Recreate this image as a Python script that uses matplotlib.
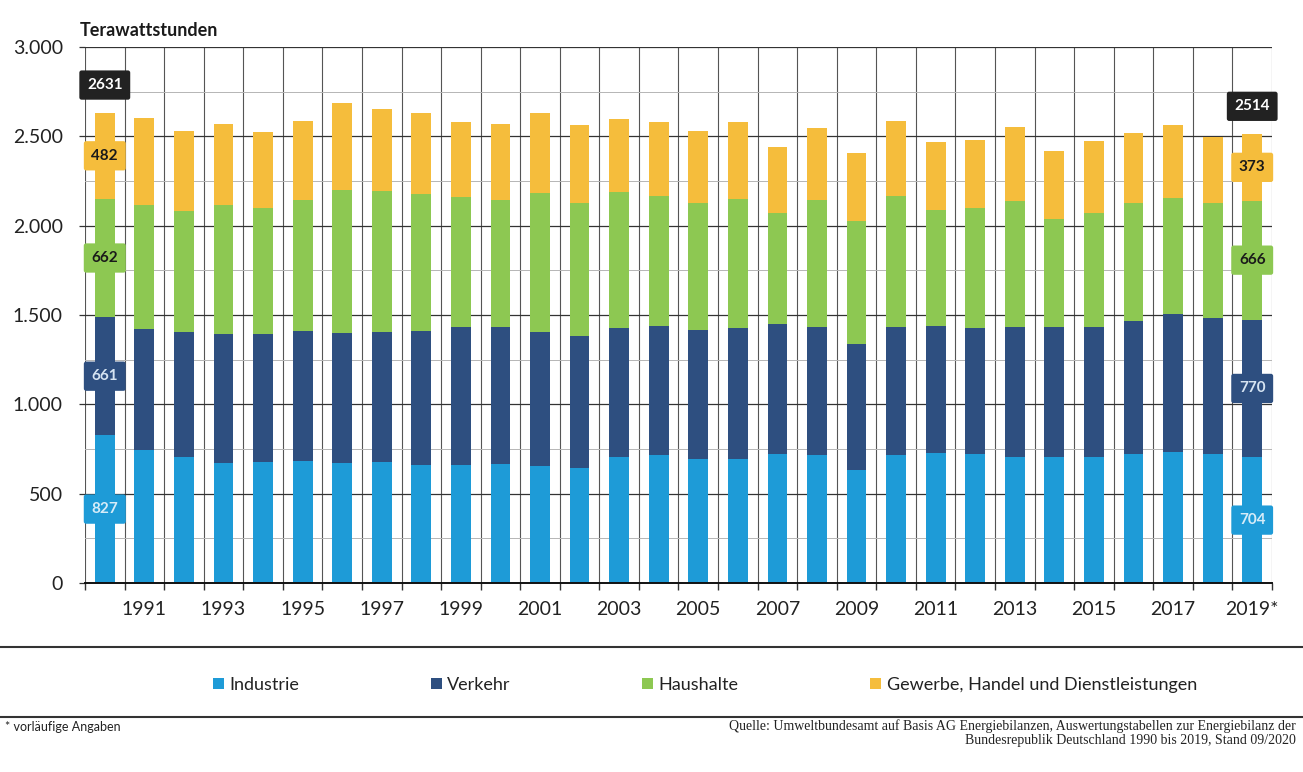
import numpy as np
import matplotlib.pyplot as plt
from matplotlib.lines import Line2D
from matplotlib.patches import Patch

plt.rcParams['font.family'] = ['Lato', 'DejaVu Sans']

# Data (TWh)
years = list(range(1990, 2020))
industrie = [827, 744, 707, 670, 679, 683, 670, 676, 660, 660,
             666, 655, 645, 707, 716, 696, 696, 722, 715, 632,
             716, 729, 720, 707, 707, 707, 722, 735, 720, 704]
verkehr = [661, 678, 700, 724, 715, 729, 731, 731, 752, 771,
           769, 748, 739, 718, 722, 720, 731, 728, 716, 706,
           715, 709, 705, 724, 724, 724, 746, 771, 761, 770]
haushalte = [662, 694, 675, 722, 703, 732, 799, 789, 765, 728,
             709, 782, 745, 762, 728, 713, 721, 619, 713, 690,
             735, 650, 672, 709, 605, 642, 661, 647, 644, 666]
ghd = [482, 485, 448, 451, 429, 444, 488, 455, 452, 423,
       423, 444, 433, 412, 413, 403, 432, 373, 401, 380,
       422, 382, 382, 411, 384, 403, 391, 410, 370, 373]
total_labels = {1990: 2631, 2019: 2514}

series_names = ["Industrie", "Verkehr", "Haushalte",
                "Gewerbe, Handel und Dienstleistungen"]
colors = ["#1e9bd7", "#2e4f80", "#8dc852", "#f5bd3c"]
text_colors = ["#d6ecf8", "#d6e4f2", "#1a1a1a", "#1a1a1a"]

tick_years = [y for y in years if y % 2 == 1]
tick_labels = [str(y) + ("*" if y == 2019 else "") for y in tick_years]

W, H = 1303, 772
fig = plt.figure(figsize=(W / 100, H / 100), dpi=100)
ax = fig.add_axes([85 / W, 1 - 583 / H, (1272 - 85) / W, (583 - 47) / H])

x = np.arange(len(years))
data = [np.array(industrie), np.array(verkehr), np.array(haushalte), np.array(ghd)]
bottom = np.zeros(len(years))
bottoms = []
for vals, col in zip(data, colors):
    ax.bar(x, vals, bottom=bottom, width=0.5, color=col, zorder=3)
    bottoms.append(bottom.copy())
    bottom = bottom + vals
totals = bottom

ax.set_xlim(-0.5, len(years) - 0.5)
ax.set_ylim(0, 3000)

# grid
ax.set_xticks(np.arange(-0.5, len(years), 1))
ax.set_xticklabels([])
ax.set_xticks([years.index(y) for y in tick_years], tick_labels, minor=True)
ax.set_yticks(range(0, 3001, 500))
ax.set_yticklabels([f"{v:,}".replace(",", ".") for v in range(0, 3001, 500)])
ax.set_yticks(range(250, 3000, 500), minor=True)
ax.xaxis.grid(True, which='major', color='#555555', lw=0.8, zorder=0)
ax.yaxis.grid(True, which='major', color='#333333', lw=0.9, zorder=0)
ax.yaxis.grid(True, which='minor', color='#b5b5b5', lw=0.7, zorder=0)

ax.tick_params(axis='x', which='major', length=5, width=1, color='#333333', direction='out')
ax.tick_params(axis='x', which='minor', length=0, labelsize=14, pad=13, labelcolor='#222222')
ax.tick_params(axis='y', which='major', length=4, width=0.9, color='#333333',
               labelsize=14, pad=12, labelcolor='#222222')
ax.tick_params(axis='y', which='minor', length=0)
for s in ['top', 'right', 'left']:
    ax.spines[s].set_visible(False)
ax.spines['bottom'].set_color('#111111')
ax.spines['bottom'].set_linewidth(1.4)
ax.spines['bottom'].set_zorder(4)

fig.text(80 / W, 1 - 30 / H, "Terawattstunden", fontsize=13, fontweight='bold',
         color='#1a1a1a', va='center', ha='left')


def box(xp, yp, txt, fc, tc):
    ax.text(xp, yp, txt, ha='center', va='center', fontsize=11, fontweight='bold',
            color=tc, zorder=5,
            bbox=dict(boxstyle='round,pad=0.5,rounding_size=0.15', fc=fc, ec='none'))


for yr in (1990, 2019):
    i = years.index(yr)
    for k in range(4):
        mid = bottoms[k][i] + data[k][i] / 2
        box(i, mid, str(data[k][i]), colors[k], text_colors[k])
    box(i, totals[i] + 155, str(total_labels[yr]), "#222222", "white")

# legend
handles = [Patch(facecolor=c, edgecolor='none') for c in colors]
fig.legend(handles, series_names, loc='center', bbox_to_anchor=(0.541, 1 - 685 / H),
           ncol=4, frameon=False, fontsize=13, handlelength=0.6, handleheight=0.6,
           handletextpad=0.3, columnspacing=7.3, labelcolor='#222222')

for yl in (647, 717):
    fig.add_artist(Line2D([0, 1], [1 - yl / H, 1 - yl / H], color='#333333', lw=1.5,
                          transform=fig.transFigure))

fig.text(5 / W, 1 - 727 / H, "* vorläufige Angaben", fontsize=9, color='#222222',
         va='center', ha='left')
fig.text(1296 / W, 1 - 719 / H,
         "Quelle: Umweltbundesamt auf Basis AG Energiebilanzen, Auswertungstabellen zur Energiebilanz der\n"
         "Bundesrepublik Deutschland 1990 bis 2019, Stand 09/2020",
         fontsize=10, family='Liberation Serif', color='#222222', ha='right', va='top',
         multialignment='right', linespacing=1.15)

fig.savefig("out.png", dpi=100, facecolor='white')
